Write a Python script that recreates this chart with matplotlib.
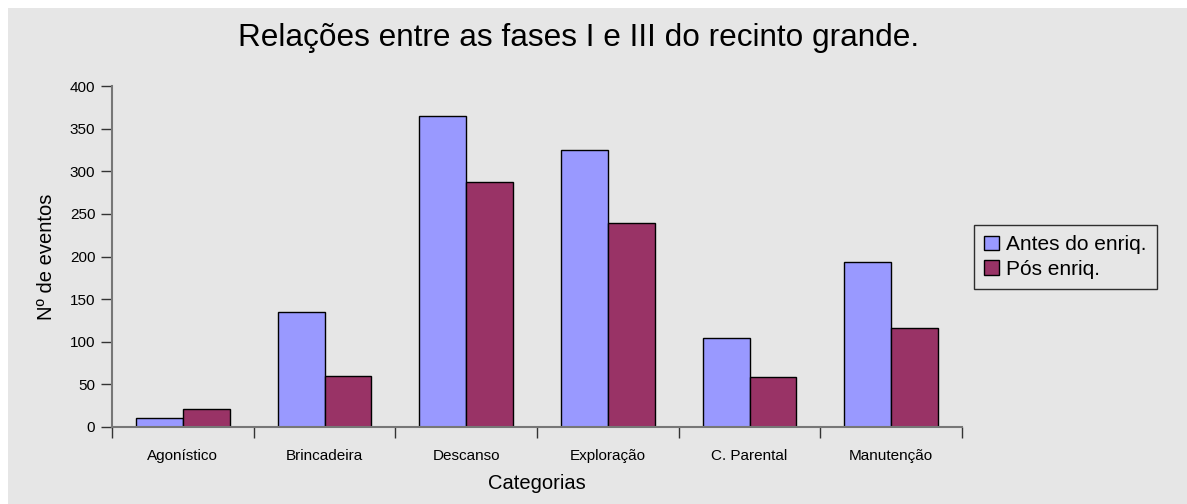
import matplotlib.pyplot as plt
import numpy as np

# data
categorias = ['Agonístico', 'Brincadeira', 'Descanso', 'Exploração', 'C. Parental', 'Manutenção']
antes = [10, 135, 365, 325, 104, 194]
pos = [21, 60, 287, 239, 59, 116]
series_labels = ['Antes do enriq.', 'Pós enriq.']
y_ticks = [0, 50, 100, 150, 200, 250, 300, 350, 400]

bg = '#e6e6e6'
cor_antes = '#9999ff'
cor_pos = '#993366'

plt.rcParams['font.family'] = ['Liberation Sans', 'DejaVu Sans']

fig = plt.figure(figsize=(11.87, 5.04), dpi=100)
fig.patch.set_facecolor('white')
# gray chart area, leaving a thin white margin at top/left
fig.patches.append(plt.Rectangle((8 / 1187, 0), 1, 1 - 8 / 504, transform=fig.transFigure,
                                 facecolor=bg, edgecolor='none', zorder=-10))

ax = fig.add_axes([112 / 1187, 1 - 427 / 504, 850 / 1187, (427 - 86) / 504])
ax.set_facecolor(bg)

x = np.arange(len(categorias))
w = 0.33
ax.bar(x - w / 2, antes, w, color=cor_antes, edgecolor='black', linewidth=1, label=series_labels[0])
ax.bar(x + w / 2, pos, w, color=cor_pos, edgecolor='black', linewidth=1, label=series_labels[1])

ax.set_xlim(-0.5, len(categorias) - 0.5)
ax.set_ylim(0, 400)
ax.set_yticks(y_ticks)
ax.set_xticks(x)
ax.set_xticklabels(categorias, fontsize=11)
ax.set_xticks(np.arange(len(categorias) + 1) - 0.5, minor=True)
ax.tick_params(axis='x', which='major', length=0, pad=16)
ax.tick_params(axis='x', which='minor', length=8, width=1, color='#333333', direction='out')
ax.tick_params(axis='y', length=8, width=1, color='#333333', labelsize=11, pad=4)

for s in ['top', 'right']:
    ax.spines[s].set_visible(False)
for s in ['left', 'bottom']:
    ax.spines[s].set_color('#777777')
    ax.spines[s].set_linewidth(1.5)

ax.set_xlabel('Categorias', fontsize=14.5, labelpad=8)
ax.set_ylabel('Nº de eventos', fontsize=14.5, labelpad=10)

fig.text(579 / 1187, 1 - 38 / 504, 'Relações entre as fases I e III do recinto grande.',
         ha='center', va='center', fontsize=22.7,
         family=['Liberation Sans Narrow', 'Liberation Sans', 'DejaVu Sans'])

leg = fig.legend(loc='center left', bbox_to_anchor=(974 / 1187, 1 - 257 / 504),
                 fontsize=15, frameon=True, fancybox=False, facecolor=bg,
                 edgecolor='black', handlelength=0.7, handleheight=0.7,
                 handletextpad=0.35, borderpad=0.5, labelspacing=0.25,
                 borderaxespad=0)
leg.get_frame().set_linewidth(1)

fig.savefig('out.png', dpi=100, facecolor=fig.get_facecolor())
